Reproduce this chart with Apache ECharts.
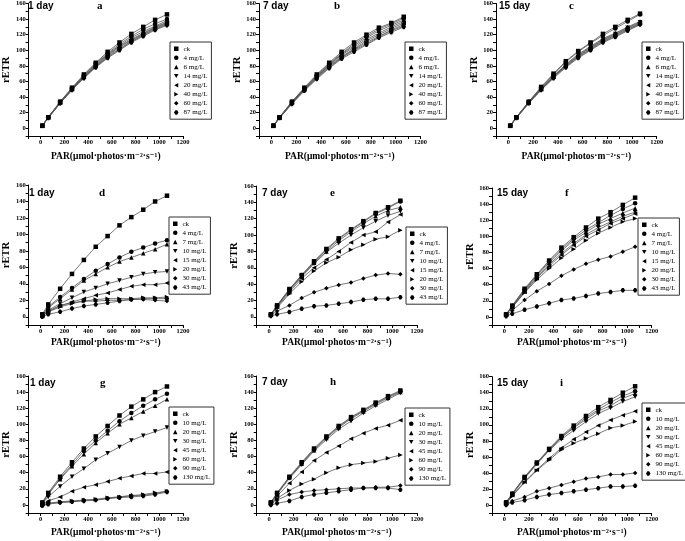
<!DOCTYPE html>
<html>
<head>
<meta charset="utf-8">
<script src="https://cdn.jsdelivr.net/npm/echarts@6/dist/echarts.min.js"></script>
<style>html,body{margin:0;padding:0;background:#fff;}#c{width:685px;height:541px;}</style>
</head>
<body>
<div id="c"></div>
<script>
// ---------- DATA ----------
const PAR = [15, 65, 165, 265, 365, 465, 565, 665, 765, 865, 965, 1065];
const namesABC = ['ck', '4 mg/L', '6 mg/L', '14 mg/L', '20 mg/L', '40 mg/L', '60 mg/L', '87 mg/L'];
const namesDEF = ['ck', '4 mg/L', '7 mg/L', '10 mg/L', '15 mg/L', '20 mg/L', '30 mg/L', '43 mg/L'];
const namesGHI = ['ck', '10 mg/L', '20 mg/L', '30 mg/L', '45 mg/L', '60 mg/L', '90 mg/L', '130 mg/L'];
const dayLabels = ['1 day', '7 day', '15 day'];
const panelLetters = ['a', 'b', 'c', 'd', 'e', 'f', 'g', 'h', 'i'];
const xAxisName = 'PAR(\u03bcmol\u00b7photos\u00b7m\u207b\u00b2\u00b7s\u207b\u00b9)';
const yAxisName = 'rETR';

const panelA = [
  [3, 14, 34, 52, 69, 84, 98, 110, 121, 130, 139, 146],
  [3, 14, 34, 51, 68, 83, 96, 108, 118, 127, 134, 140],
  [3, 14, 33, 51, 67, 82, 95, 106, 116, 124, 131, 138],
  [3, 14, 33, 50, 66, 81, 94, 105, 114, 122, 130, 136],
  [3, 14, 33, 50, 66, 80, 93, 104, 113, 121, 129, 135],
  [3, 14, 32, 50, 65, 79, 92, 102, 112, 120, 128, 134],
  [3, 13, 32, 49, 65, 79, 91, 101, 111, 119, 127, 133],
  [3, 13, 32, 49, 64, 78, 90, 100, 110, 118, 126, 132]
];
const panelB = [
  [3, 14, 34, 52, 69, 84, 98, 110, 120, 129, 135, 143],
  [3, 14, 34, 51, 68, 83, 96, 108, 118, 127, 134, 141],
  [3, 14, 33, 51, 67, 82, 95, 106, 116, 125, 132, 139],
  [3, 14, 33, 50, 66, 81, 94, 104, 114, 122, 130, 137],
  [3, 13, 33, 50, 66, 80, 92, 102, 112, 120, 128, 135],
  [3, 13, 32, 49, 65, 79, 91, 101, 110, 118, 126, 133],
  [3, 13, 32, 49, 64, 78, 90, 100, 108, 117, 125, 131],
  [3, 13, 31, 48, 63, 77, 89, 98, 107, 116, 123, 130]
];
const panelC = [
  [3, 14, 34, 53, 70, 86, 99, 110, 121, 130, 139, 147],
  [3, 14, 34, 52, 69, 85, 98, 109, 119, 128, 137, 146],
  [3, 14, 33, 51, 67, 82, 95, 105, 115, 122, 130, 137],
  [3, 14, 33, 51, 67, 81, 94, 104, 114, 121, 129, 136],
  [3, 14, 33, 50, 66, 80, 93, 103, 113, 120, 128, 135],
  [3, 14, 33, 50, 66, 80, 92, 102, 112, 119, 127, 134],
  [3, 13, 32, 49, 65, 79, 91, 101, 111, 118, 126, 133],
  [3, 13, 32, 49, 64, 78, 90, 100, 110, 117, 125, 133]
];
const panelD = [
  [3, 15, 34, 52, 69, 85, 98, 111, 121, 130, 140, 147],
  [2, 12, 24, 35, 46, 56, 64, 72, 79, 84, 89, 93],
  [2, 11, 22, 33, 44, 52, 60, 67, 72, 77, 82, 88],
  [2, 8, 16, 23, 30, 35, 40, 44, 48, 52, 54, 55],
  [1, 6, 13, 18, 22, 26, 29, 33, 37, 39, 39, 41],
  [1, 6, 12, 16, 19, 21, 22, 22, 22, 23, 23, 24],
  [1, 7, 14, 17, 19, 19, 20, 20, 21, 21, 20, 19],
  [0, 3, 6, 10, 13, 15, 17, 19, 21, 22, 22, 22]
];
const panelE = [
  [3, 14, 34, 51, 68, 83, 96, 107, 117, 127, 134, 142],
  [3, 14, 33, 51, 67, 82, 95, 106, 116, 126, 133, 141],
  [3, 13, 33, 50, 66, 80, 93, 104, 114, 123, 130, 134],
  [3, 13, 32, 49, 65, 79, 90, 100, 109, 117, 124, 129],
  [3, 12, 30, 47, 60, 70, 80, 91, 100, 104, 116, 125],
  [2, 11, 28, 43, 56, 66, 73, 82, 88, 95, 98, 106],
  [2, 7, 14, 23, 30, 35, 39, 42, 47, 51, 53, 52],
  [1, 3, 6, 10, 13, 14, 16, 18, 21, 22, 22, 24]
];
const panelF = [
  [3, 14, 35, 53, 70, 86, 99, 111, 122, 130, 139, 148],
  [3, 14, 34, 52, 69, 84, 97, 108, 117, 126, 134, 141],
  [3, 13, 33, 51, 67, 82, 95, 105, 115, 122, 129, 135],
  [3, 13, 32, 49, 65, 79, 91, 102, 111, 118, 125, 130],
  [3, 12, 31, 48, 63, 77, 89, 100, 108, 116, 122, 128],
  [3, 12, 30, 46, 60, 73, 84, 95, 104, 111, 118, 122],
  [2, 8, 21, 32, 41, 51, 59, 66, 71, 75, 81, 87],
  [1, 4, 9, 13, 17, 21, 23, 26, 29, 31, 33, 33]
];
const panelG = [
  [3, 15, 35, 53, 70, 85, 98, 111, 122, 131, 140, 147],
  [3, 14, 33, 50, 67, 80, 92, 104, 114, 123, 131, 138],
  [2, 13, 32, 48, 63, 77, 89, 100, 108, 116, 123, 131],
  [2, 10, 23, 35, 45, 56, 64, 72, 80, 86, 91, 96],
  [1, 5, 10, 17, 22, 25, 29, 33, 36, 39, 39, 41],
  [0, 2, 4, 5, 6, 7, 9, 10, 11, 13, 15, 17],
  [0, 2, 3, 4, 6, 6, 8, 10, 12, 12, 14, 17],
  [-1, 1, 3, 4, 5, 6, 8, 9, 10, 11, 13, 16]
];
const panelH = [
  [3, 15, 35, 53, 70, 85, 98, 109, 118, 127, 135, 142],
  [3, 14, 34, 52, 69, 84, 97, 108, 117, 126, 134, 141],
  [3, 14, 34, 51, 68, 83, 96, 107, 116, 125, 133, 140],
  [3, 13, 33, 50, 67, 81, 94, 104, 114, 123, 131, 139],
  [2, 11, 27, 41, 55, 65, 73, 82, 89, 95, 99, 105],
  [2, 8, 18, 26, 32, 40, 46, 50, 52, 54, 58, 62],
  [1, 6, 13, 16, 18, 19, 20, 21, 21, 22, 22, 24],
  [0, 2, 5, 10, 13, 15, 17, 19, 21, 21, 21, 19]
];
const panelI = [
  [3, 14, 35, 53, 70, 86, 99, 111, 122, 131, 140, 148],
  [3, 14, 34, 52, 69, 85, 97, 109, 119, 128, 136, 142],
  [3, 14, 34, 52, 69, 84, 96, 107, 117, 124, 133, 139],
  [3, 13, 33, 51, 68, 82, 93, 104, 114, 121, 129, 135],
  [2, 12, 29, 44, 58, 71, 82, 91, 99, 106, 112, 117],
  [2, 11, 28, 43, 56, 69, 77, 83, 89, 96, 99, 104],
  [1, 5, 10, 17, 21, 25, 29, 33, 35, 38, 38, 40],
  [0, 3, 6, 10, 13, 15, 17, 19, 21, 23, 23, 24]
];

// ---------- LAYOUT / STYLE ----------
const panels = [panelA, panelB, panelC, panelD, panelE, panelF, panelG, panelH, panelI];
const panelNames = [namesABC, namesABC, namesABC, namesDEF, namesDEF, namesDEF, namesGHI, namesGHI, namesGHI];
const grids = [
  {left: 23, top: 2.5, width: 160, height: 133.5},
  {left: 259, top: 2.3, width: 161.5, height: 133.7},
  {left: 496, top: 1.7, width: 160.7, height: 134.3},
  {left: 24, top: 185, width: 159, height: 140},
  {left: 256.7, top: 186, width: 160.3, height: 139},
  {left: 492, top: 188, width: 159.7, height: 137},
  {left: 24, top: 376, width: 159, height: 137},
  {left: 256.7, top: 376, width: 160.3, height: 137},
  {left: 492, top: 376.7, width: 159.7, height: 136.3}
];
const legendBoxes = [
  {left: 170, top: 42}, {left: 405, top: 42}, {left: 642, top: 42},
  {left: 169, top: 217}, {left: 406, top: 227}, {left: 638, top: 218},
  {left: 169, top: 407}, {left: 405, top: 408}, {left: 642, top: 403}
];
const xNameGap = [16, 16, 16, 13, 13, 13, 15, 15, 15];
const dayPos = [[28, 7], [263, 7], [499, 7], [29, 194], [262, 194], [497, 194], [30, 384], [262, 383], [497, 384]];
const letterPos = [100, 337, 572, 102, 333, 568, 103, 333, 563];

const symbols = [
  'rect', 'circle', 'triangle',
  'path://M0,0L10,0L5,9Z',
  'path://M9,0L9,10L0,5Z',
  'path://M0,0L0,10L9,5Z',
  'diamond',
  'path://M3,0L7,0L10,5L7,10L3,10L0,5Z'
];

const SERIF = '"Liberation Serif", "DejaVu Serif", serif';
const SANS = '"Liberation Sans", Arial, sans-serif';

const option = {
  animation: false,
  backgroundColor: '#fff',
  grid: [], xAxis: [], yAxis: [], legend: [], series: [], graphic: []
};

panels.forEach((panel, p) => {
  option.grid.push(Object.assign({containLabel: false}, grids[p]));
  option.xAxis.push({
    type: 'value', gridIndex: p, min: -100, max: 1200, interval: 100,
    name: xAxisName, nameLocation: 'middle', nameGap: xNameGap[p],
    nameTextStyle: {fontFamily: SERIF, fontWeight: 'bold', fontSize: 9.5, color: '#000'},
    axisLine: {onZero: false, lineStyle: {color: '#000', width: 1}},
    axisTick: {inside: false, length: 3, lineStyle: {color: '#000', width: 1}},
    splitLine: {show: false},
    axisLabel: {
      margin: 3, fontFamily: SERIF, fontWeight: 'bold', fontSize: 6.5, color: '#000',
      showMinLabel: true, showMaxLabel: true,
      formatter: v => (v >= 0 && v % 200 === 0) ? String(v) : ''
    }
  });
  option.yAxis.push({
    type: 'value', gridIndex: p, min: -10, max: 160, interval: 10,
    name: yAxisName, nameLocation: 'middle', nameGap: 10, nameRotate: 90,
    nameTextStyle: {fontFamily: SERIF, fontWeight: 'bold', fontSize: 10.5, color: '#000'},
    axisLine: {show: true, onZero: false, lineStyle: {color: '#000', width: 1}},
    axisTick: {show: true, inside: false, length: 3, lineStyle: {color: '#000', width: 1}},
    splitLine: {show: false},
    axisLabel: {
      margin: 3, fontFamily: SERIF, fontWeight: 'bold', fontSize: 6.5, color: '#000',
      showMinLabel: true, showMaxLabel: true,
      formatter: v => (v >= 0 && v % 20 === 0) ? String(v) : ''
    }
  });
  const names = panelNames[p];
  option.legend.push({
    orient: 'vertical', left: legendBoxes[p].left, top: legendBoxes[p].top,
    borderColor: '#333', borderWidth: 1, padding: [3, 4, 3, 4],
    itemWidth: 4.5, itemHeight: 4.5, itemGap: 1.6,
    selectedMode: false,
    textStyle: {fontFamily: SERIF, fontSize: 7, color: '#000', lineHeight: 7.5},
    data: names.map((n, k) => ({name: n, icon: symbols[k], itemStyle: {color: '#000'}}))
  });
  panel.forEach((row, k) => {
    option.series.push({
      type: 'line', name: names[k], xAxisIndex: p, yAxisIndex: p,
      data: row.map((v, i) => [PAR[i], v]),
      symbol: symbols[k], symbolSize: 4.5, showSymbol: true,
      itemStyle: {color: '#000'},
      lineStyle: {color: '#555', width: 0.8},
      emphasis: {disabled: true}
    });
  });
  const day = dayLabels[p % 3];
  option.graphic.push({
    type: 'text', left: dayPos[p][0], top: dayPos[p][1] - 6,
    style: {text: day, font: 'bold 10px ' + SANS, fill: '#000'}
  });
  option.graphic.push({
    type: 'text', left: letterPos[p] - 3, top: dayPos[p][1] - 6,
    style: {text: panelLetters[p], font: 'bold 11px ' + SERIF, fill: '#000'}
  });
});

const chart = echarts.init(document.getElementById('c'));
chart.setOption(option);
</script>
</body>
</html>
